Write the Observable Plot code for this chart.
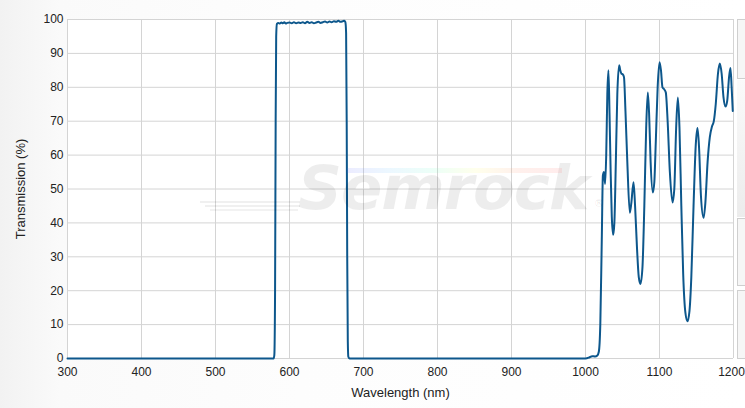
<!DOCTYPE html>
<html>
<head>
<meta charset="utf-8">
<script src="https://cdn.jsdelivr.net/npm/d3@7"></script>
<script src="https://cdn.jsdelivr.net/npm/@observablehq/plot@0.6"></script>
<style>
  html, body { margin: 0; padding: 0; }
  body {
    width: 745px; height: 408px; overflow: hidden; position: relative;
    background: linear-gradient(to right, #f2f2f2 0px, #fafafa 60px, #fdfdfd 300px, #ffffff 745px);
    font-family: "Liberation Sans", Arial, sans-serif;
  }
  #chart { position: absolute; left: 0; top: 0; }
  .wm { position: absolute; pointer-events: none; }
  .panel { position: absolute; left: 737px; width: 10px; border: 1px solid #cfcfcf; background: #f6f6f6; box-sizing: border-box; }
</style>
</head>
<body>
<div id="chart"></div>
<div class="wm" style="left:298px; top:152px; font: italic 900 61px 'DejaVu Sans', sans-serif; color: rgba(0,0,0,0.07); letter-spacing:-1px;">Semrock</div>
<div class="wm" style="left:594px; top:198px; font: 10px 'DejaVu Sans', sans-serif; color: rgba(0,0,0,0.1);">®</div>
<div class="wm" style="left:347px; top:168px; width:215px; height:5px; opacity:0.12; background: linear-gradient(to right, #6060ff, #60c0ff, #60ffc0, #ffff60, #ff8060, #ff6060);"></div>
<div class="wm" style="left:200px; top:201px; width:100px; height:2px; background: rgba(0,0,0,0.06);"></div>
<div class="wm" style="left:205px; top:205px; width:95px; height:2px; background: rgba(0,0,0,0.06);"></div>
<div class="wm" style="left:210px; top:209px; width:88px; height:2px; background: rgba(0,0,0,0.05);"></div>
<div class="panel" style="top:19px; height:60px;"></div>
<div class="wm" style="left:737px; top:80px; width:8px; height:137px; background: linear-gradient(to bottom, #fafafa, #ececec);"></div>
<div class="panel" style="top:218px; height:68px;"></div>
<div class="panel" style="top:290px; height:69px;"></div>
<script>
// Wavelength (nm) and transmission (%)
const wavelength = [
  300, 574, 578.5, 579.5, 580.5, 581.3, 582, 583,
  585, 587, 589, 591, 593, 595, 597, 600, 603, 606, 609, 612, 615, 618, 621, 624, 627, 630,
  633, 636, 639, 642, 645, 648, 651, 654, 657, 660, 663, 666, 669, 672, 674,
  675.5, 676.5, 677.3, 678, 678.8, 679.5, 681,
  1000, 1005, 1009, 1013, 1016, 1018, 1020, 1022, 1023.5, 1025, 1026.5, 1028, 1029.5, 1031,
  1032.5, 1034, 1035.5, 1037.4, 1039, 1041, 1043, 1045.5, 1047, 1048.6, 1050.5, 1052, 1054,
  1056.5, 1059.9, 1062, 1064.9, 1067, 1069.5, 1072, 1074.3, 1077, 1079.5, 1082, 1084.2, 1086,
  1088, 1091, 1093, 1095, 1097.5, 1100, 1102, 1104, 1106, 1108.5, 1111, 1114, 1117.6, 1120,
  1122.5, 1124.8, 1127, 1129.5, 1132, 1135, 1137.8, 1140.5, 1143, 1146, 1149, 1151.4, 1153.5,
  1156, 1159.5, 1162, 1165, 1168, 1171, 1173.4, 1176, 1179, 1181.5, 1184, 1186.5, 1189.2,
  1191.5, 1194, 1195.9, 1197.5, 1199
];
const transmission = [
  0, 0, 0, 1, 20, 70, 95, 98.7,
  99.0, 98.8, 99.1, 98.9, 99.2, 98.8, 99.0, 99.1, 98.9, 99.2, 98.9, 99.1, 99.0, 99.2, 98.9, 99.3, 99.0, 99.2,
  98.9, 99.1, 99.3, 99.0, 99.2, 99.4, 99.1, 99.4, 99.2, 99.5, 99.3, 99.6, 99.3, 99.5, 99.6,
  99.2, 96, 70, 30, 5, 0.5, 0,
  0, 0.3, 0.7, 0.6, 0.9, 2, 10, 35, 54, 55, 51.5, 60, 78, 85,
  72, 55, 42, 36.5, 40, 58, 78, 86.5, 85, 84, 83.8, 83, 73,
  58, 43, 46, 52, 45, 33, 24, 22, 27, 45, 68, 78.5, 72,
  58, 49, 52, 64, 80, 87.4, 85, 80, 79.5, 78.5, 70, 55, 46, 50,
  68, 77, 68, 45, 25, 13.5, 11, 14, 24, 45, 63, 68, 62,
  48, 41.5, 46, 58, 65.3, 68.5, 70, 75, 84, 87, 84, 77, 74.3,
  76, 83, 85.7, 80, 73
];
const xTicks = [300, 400, 500, 600, 700, 800, 900, 1000, 1100, 1200];
const yTicks = [0, 10, 20, 30, 40, 50, 60, 70, 80, 90, 100];

const data = wavelength.map((w, i) => ({w, t: transmission[i]}));
const xTicksInner = xTicks.slice(0, -1);
const xTickLast = xTicks.slice(-1);

const chart = Plot.plot({
  width: 745,
  height: 408,
  marginLeft: 67,
  marginRight: 12,
  marginTop: 19,
  marginBottom: 50,
  style: {background: "transparent", fontFamily: "'Liberation Sans', Arial, sans-serif", fontSize: "12px", color: "#222"},
  x: {domain: [300, 1200]},
  y: {domain: [0, 100]},
  marks: [
    Plot.frame({fill: "white", stroke: null}),
    Plot.gridX(xTicks, {stroke: "#d4d4d4", strokeOpacity: 1}),
    Plot.gridY(yTicks, {stroke: "#d4d4d4", strokeOpacity: 1}),
    Plot.axisX(xTicksInner, {tickSize: 0, tickPadding: 9, fontSize: 12, tickFormat: d => String(d), label: null}),
    Plot.axisX(xTickLast, {tickSize: 0, tickPadding: 9, fontSize: 12, dx: -2, tickFormat: d => String(d), label: null}),
    Plot.axisX([], {tickSize: 0, fontSize: 13, label: "Wavelength (nm)", labelAnchor: "center", labelOffset: 38, labelArrow: "none"}),
    Plot.axisY(yTicks, {tickSize: 0, tickPadding: 4, fontSize: 12, tickFormat: d => String(d), label: null}),
    Plot.axisY([], {tickSize: 0, fontSize: 13, label: "Transmission (%)", labelAnchor: "center", labelOffset: 52, labelArrow: "none"}),
    Plot.line(data, {x: "w", y: "t", stroke: "#0d578c", strokeWidth: 2, curve: "monotone-x"})
  ]
});
document.getElementById("chart").appendChild(chart);
</script>
</body>
</html>
